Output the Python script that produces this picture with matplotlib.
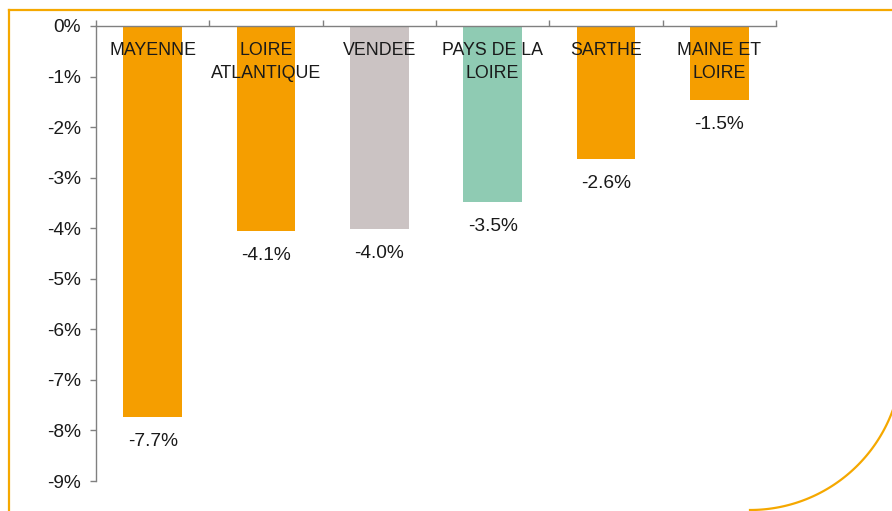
import matplotlib.pyplot as plt
import numpy as np
from matplotlib.lines import Line2D

plt.rcParams['font.family'] = ['Liberation Sans', 'DejaVu Sans']

departements = ['MAYENNE', 'LOIRE\nATLANTIQUE', 'VENDEE', 'PAYS DE LA\nLOIRE', 'SARTHE', 'MAINE ET\nLOIRE']
variations = [-7.73, -4.06, -4.02, -3.48, -2.64, -1.46]
couleurs = ['#F59E00', '#F59E00', '#CBC3C3', '#8FCBB3', '#F59E00', '#F59E00']
yticks = [0, -1, -2, -3, -4, -5, -6, -7, -8, -9]

W, H = 892, 511
fig = plt.figure(figsize=(W / 100, H / 100), dpi=100)
ax = fig.add_axes([96 / W, 1 - 481 / H, (776 - 96) / W, (481 - 26) / H])

x = np.arange(len(departements)) + 0.5
ax.bar(x, variations, width=0.52, color=couleurs, zorder=2)

for xi, v, nom in zip(x, variations, departements):
    ax.annotate(f'{v:.1f}%', (xi, v), xytext=(0, -11.5), textcoords='offset points',
                ha='center', va='top', fontsize=13.8, color='#1a1a1a')
    ax.text(xi, -0.31, nom, ha='center', va='top', fontsize=12.8, color='#1a1a1a',
            linespacing=1.5, zorder=3)

ax.set_xlim(0, len(departements))
ax.set_ylim(-9, 0)
ax.set_yticks(yticks)
ax.set_yticklabels([f'{t}%' for t in yticks], fontsize=13.8, color='#1a1a1a')
ax.set_xticks(np.arange(len(departements) + 1))
ax.xaxis.set_ticks_position('top')
ax.tick_params(axis='x', labeltop=False, length=4, color='#808080', width=1)
ax.tick_params(axis='y', length=4, color='#808080', width=1, pad=7)

for s in ['right', 'bottom']:
    ax.spines[s].set_visible(False)
for s in ['left', 'top']:
    ax.spines[s].set_color('#808080')
    ax.spines[s].set_linewidth(1)

# cadre orange autour du graphique
orange = '#F5A800'
def fx(px):
    return px / W
def fy(py):
    return 1 - py / H

fig.add_artist(Line2D([fx(9), fx(892)], [fy(10), fy(10)], color=orange, lw=1.6))
fig.add_artist(Line2D([fx(9), fx(9)], [fy(10), fy(511)], color=orange, lw=1.6))
theta = np.linspace(0, np.pi / 2, 100)
cx, cy, r = 750, 358, 152
fig.add_artist(Line2D(fx(cx + r * np.cos(theta)), fy(cy + r * np.sin(theta)), color=orange, lw=1.6))

fig.savefig('out.png', dpi=100)
